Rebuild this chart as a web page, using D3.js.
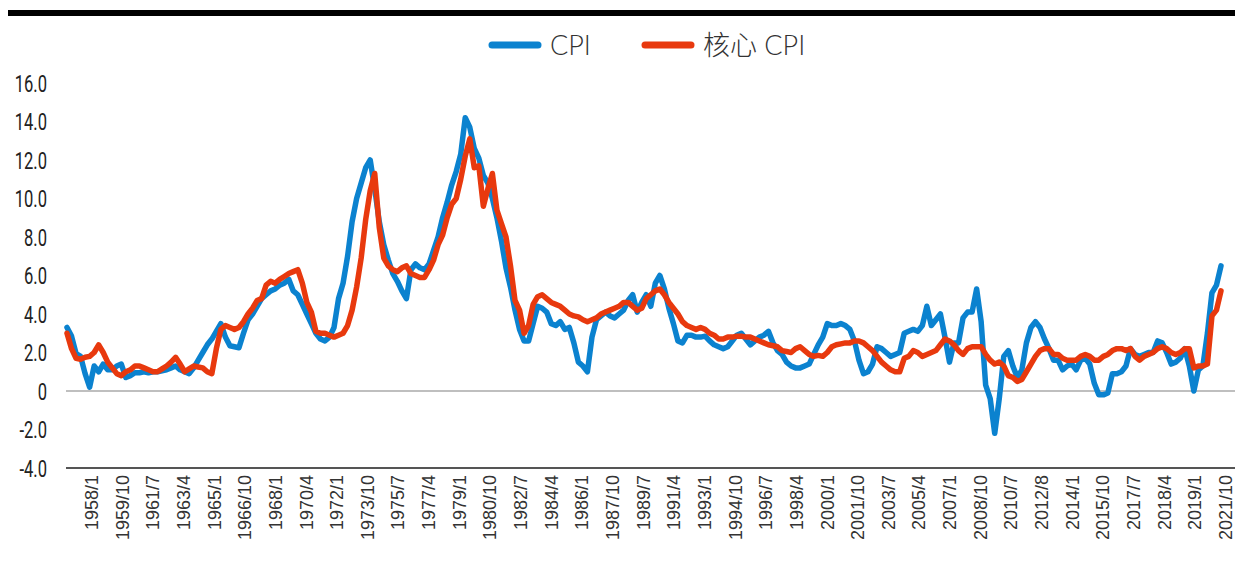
<!DOCTYPE html>
<html>
<head>
<meta charset="utf-8">
<script src="https://d3js.org/d3.v7.min.js"></script>
<style>
  body { margin: 0; background: #fff; }
  svg { display: block; }
</style>
</head>
<body>
<div id="chart"></div>
<script>
// quarterly readings, 1958 .. 2021 (4 values per year)
var cpi = [
  3.3, 2.85, 1.95, 1.8,   0.9, 0.2, 1.3, 1.0,   1.4, 1.1, 1.1, 1.3,   1.4, 0.7, 0.8, 0.95,
  0.95, 1.0, 0.95, 1.0,   1.0, 1.05, 1.1, 1.2,  1.3, 1.1, 1.0, 0.9,   1.2, 1.6, 2.0, 2.4,
  2.7, 3.1, 3.5, 2.8,     2.35, 2.3, 2.25, 3.0, 3.7, 4.0, 4.4, 4.8,   5.0, 5.2, 5.3, 5.5,
  5.6, 5.8, 5.2, 5.0,     4.5, 4.0, 3.5, 3.0,   2.7, 2.6, 2.8, 3.3,   4.8, 5.6, 7.0, 8.8,
  10.0, 10.8, 11.6, 12.0, 10.5, 8.8, 7.6, 6.8,  6.1, 5.7, 5.2, 4.8,   6.3, 6.6, 6.4, 6.3,
  6.6, 7.3, 8.0, 9.0,     9.8, 10.7, 11.4, 12.3, 14.2, 13.7, 12.6, 12.1, 11.2, 10.8, 10.0, 9.0,
  7.8, 6.4, 5.4, 4.2,     3.2, 2.6, 2.6, 3.5,   4.4, 4.3, 4.1, 3.5,   3.4, 3.6, 3.2, 3.3,
  2.5, 1.5, 1.3, 1.0,     2.8, 3.7, 3.9, 4.1,   3.9, 3.8, 4.0, 4.2,   4.7, 5.0, 4.1, 4.6,
  5.0, 4.4, 5.6, 6.0,     5.3, 4.3, 3.5, 2.6,   2.5, 2.9, 2.9, 2.8,   2.8, 2.85, 2.6, 2.4,
  2.3, 2.2, 2.3, 2.6,     2.9, 3.0, 2.7, 2.4,   2.6, 2.8, 2.9, 3.1,   2.5, 2.1, 1.9, 1.5,
  1.3, 1.2, 1.2, 1.3,     1.4, 1.9, 2.4, 2.8,   3.5, 3.4, 3.4, 3.5,   3.4, 3.2, 2.6, 1.6,
  0.9, 1.0, 1.4, 2.3,     2.2, 2.0, 1.8, 1.9,   2.0, 3.0, 3.1, 3.2,   3.1, 3.4, 4.4, 3.4,
  3.7, 4.0, 2.8, 1.5,     2.5, 2.5, 3.8, 4.1,   4.1, 5.3, 3.6, 0.3,   -0.4, -2.2, -0.4, 1.8,
  2.1, 1.3, 0.7, 1.1,     2.5, 3.3, 3.6, 3.3,   2.7, 2.2, 1.6, 1.6,   1.1, 1.3, 1.4, 1.1,
  1.6, 1.7, 1.4, 0.4,     -0.2, -0.2, -0.1, 0.9, 0.9, 1.0, 1.3, 2.2,  1.9, 1.8, 1.9, 2.0,
  2.0, 2.6, 2.5, 2.0,     1.4, 1.5, 1.7, 2.2,   1.3, 0.0, 1.1, 1.3,   3.0, 5.1, 5.5, 6.5
];

var coreCpi = [
  3.0, 2.2, 1.7, 1.65,    1.75, 1.8, 2.0, 2.4,  2.0, 1.5, 1.2, 0.9,   0.8, 1.0, 1.1, 1.3,
  1.3, 1.2, 1.1, 1.0,     1.0, 1.15, 1.3, 1.5,  1.75, 1.4, 1.0, 1.15, 1.3, 1.25, 1.2, 1.0,
  0.9, 2.2, 3.2, 3.4,     3.3, 3.2, 3.3, 3.6,   4.0, 4.3, 4.7, 4.8,   5.5, 5.7, 5.6, 5.8,
  5.95, 6.1, 6.2, 6.3,    5.6, 4.6, 4.1, 3.1,   3.0, 3.0, 2.9, 2.8,   2.9, 3.0, 3.4, 4.2,
  5.4, 6.9, 8.9, 10.4,    11.3, 8.5, 6.9, 6.5,  6.3, 6.2, 6.4, 6.5,   6.1, 6.0, 5.9, 5.9,
  6.3, 6.8, 7.6, 8.1,     9.0, 9.7, 10.0, 11.0, 12.2, 13.1, 11.6, 11.7, 9.6, 10.5, 11.3, 9.4,
  8.7, 8.0, 6.5, 4.7,     4.2, 3.0, 3.4, 4.5,   4.9, 5.0, 4.8, 4.6,   4.5, 4.4, 4.2, 4.0,
  3.9, 3.85, 3.7, 3.6,    3.7, 3.8, 4.0, 4.1,   4.2, 4.3, 4.4, 4.6,   4.6, 4.4, 4.2, 4.3,
  4.8, 5.0, 5.2, 5.3,     5.0, 4.6, 4.3, 4.0,   3.6, 3.4, 3.3, 3.2,   3.3, 3.2, 3.0, 2.9,
  2.7, 2.7, 2.8, 2.8,     2.85, 2.85, 2.8, 2.8, 2.7, 2.6, 2.5, 2.4,   2.35, 2.3, 2.1, 2.05,
  2.0, 2.2, 2.3, 2.1,     1.9, 1.8, 1.85, 1.8,  2.0, 2.3, 2.4, 2.45,  2.5, 2.5, 2.6, 2.6,
  2.5, 2.3, 2.1, 1.8,     1.5, 1.3, 1.1, 1.0,   1.0, 1.7, 1.8, 2.1,   2.0, 1.8, 1.9, 2.0,
  2.1, 2.4, 2.7, 2.6,     2.4, 2.1, 1.9, 2.2,   2.3, 2.3, 2.3, 1.9,   1.6, 1.4, 1.5, 1.3,
  0.8, 0.7, 0.5, 0.6,     1.0, 1.4, 1.8, 2.1,   2.2, 2.2, 1.9, 1.9,   1.7, 1.6, 1.6, 1.6,
  1.8, 1.9, 1.8, 1.6,     1.6, 1.8, 1.9, 2.1,   2.2, 2.2, 2.1, 2.2,   1.8, 1.6, 1.8, 1.9,
  2.0, 2.2, 2.3, 2.2,     2.0, 1.9, 2.0, 2.2,   2.2, 1.2, 1.3, 1.3,   1.4, 3.9, 4.2, 5.2
];

var xLabels = ["1958/1", "1959/10", "1961/7", "1963/4", "1965/1", "1966/10", "1968/1", "1970/4",
  "1972/1", "1973/10", "1975/7", "1977/4", "1979/1", "1980/10", "1982/7", "1984/4", "1986/1",
  "1987/10", "1989/7", "1991/4", "1993/1", "1994/10", "1996/7", "1998/4", "2000/1", "2001/10",
  "2003/7", "2005/4", "2007/1", "2008/10", "2010/7", "2012/8", "2014/1", "2015/10", "2017/7",
  "2018/4", "2019/1", "2021/10"];

var yTicks = [-4, -2, 0, 2, 4, 6, 8, 10, 12, 14, 16];

var seriesNames = ["CPI", "核心 CPI"];
var colors = ["#0b82cf", "#e8390e"];

var W = 1235, H = 561;

var svg = d3.select("#chart").append("svg")
  .attr("width", W)
  .attr("height", H);

// top black rule
svg.append("rect")
  .attr("x", 8).attr("y", 10)
  .attr("width", W - 8).attr("height", 6)
  .attr("fill", "#000");

var x = d3.scaleLinear()
  .domain([0, cpi.length - 1])
  .range([67, 1221]);

var y = d3.scaleLinear()
  .domain([-4, 16])
  .range([468, 83]);

var xl = d3.scalePoint()
  .domain(xLabels)
  .range([91, 1225]);

// y axis labels (condensed look)
var yAxis = svg.append("g")
  .attr("transform", "translate(47,0)")
  .call(d3.axisLeft(y).tickValues(yTicks).tickSize(0)
    .tickFormat(function(d) { return d === 0 ? "0" : d.toFixed(1); }));
yAxis.select(".domain").remove();
yAxis.selectAll("text")
  .attr("x", 0)
  .attr("dy", "0.36em")
  .attr("transform", "scale(0.72,1)")
  .style("font-family", "Roboto, 'DejaVu Sans Condensed', sans-serif")
  .style("font-size", "23px")
  .style("fill", "#222");

// zero line
svg.append("line")
  .attr("x1", 66).attr("x2", W)
  .attr("y1", y(0)).attr("y2", y(0))
  .attr("stroke", "#aaaaaa")
  .attr("stroke-width", 1.5);

// bottom axis line
svg.append("line")
  .attr("x1", 66).attr("x2", W)
  .attr("y1", y(-4)).attr("y2", y(-4))
  .attr("stroke", "#555")
  .attr("stroke-width", 2);

// x labels
var xAxis = svg.append("g")
  .attr("transform", "translate(0," + y(-4) + ")")
  .call(d3.axisBottom(xl).tickSize(0));
xAxis.select(".domain").remove();
xAxis.selectAll("text")
  .attr("transform", "rotate(-90)")
  .attr("x", -7)
  .attr("y", 0)
  .attr("dy", "0.36em")
  .attr("text-anchor", "end")
  .style("font-family", "'Liberation Sans', Arial, sans-serif")
  .style("font-size", "18px")
  .style("fill", "#333");

// lines
var line = d3.line()
  .x(function(d, i) { return x(i); })
  .y(function(d) { return y(d); });

[cpi, coreCpi].forEach(function(s, k) {
  svg.append("path")
    .datum(s)
    .attr("d", line)
    .attr("fill", "none")
    .attr("stroke", colors[k])
    .attr("stroke-width", 5.5)
    .attr("stroke-linejoin", "round")
    .attr("stroke-linecap", "round");
});

// legend
var legendX = [492, 645];
seriesNames.forEach(function(name, k) {
  svg.append("line")
    .attr("x1", legendX[k]).attr("x2", legendX[k] + 46)
    .attr("y1", 45).attr("y2", 45)
    .attr("stroke", colors[k])
    .attr("stroke-width", 7)
    .attr("stroke-linecap", "round");
  svg.append("text")
    .attr("x", legendX[k] + 58)
    .attr("y", 45)
    .attr("dy", "0.36em")
    .style("font-family", "Lato, 'Noto Sans CJK SC', sans-serif")
    .style("font-size", "27px")
    .style("font-weight", 300)
    .style("fill", "#333")
    .text(name);
});
</script>
</body>
</html>
